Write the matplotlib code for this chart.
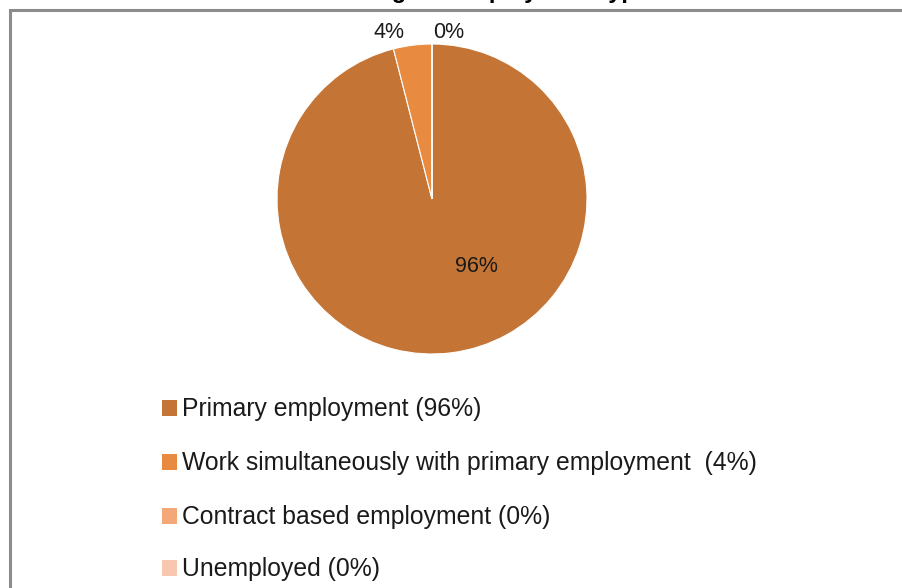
import matplotlib
matplotlib.use("Agg")
import matplotlib.pyplot as plt
from matplotlib.patches import Rectangle

categories = ["Primary employment (96%)",
              "Work simultaneously with primary employment  (4%)",
              "Contract based employment (0%)",
              "Unemployed (0%)"]
values = [96, 4, 0, 0]
pct_labels = ["96%", "4%", "0%", ""]
colors = ["#C47535", "#E88B40", "#F5A877", "#F8C8AE"]
title = "Percentage of employment type"

plt.rcParams['font.family'] = ['Liberation Sans', 'DejaVu Sans']

W, H = 902, 588
fig = plt.figure(figsize=(W/100, H/100), dpi=100)
fig.patch.set_facecolor("white")

# outer frame
fig.add_artist(Rectangle((9.5/W, -0.1), 2.0, (H-9.5)/H + 0.1, transform=fig.transFigure,
                         fill=False, edgecolor="#8c8c8c", linewidth=2.2))
# title (mostly clipped at top of the image, as in the reference)
fig.text(470/W, 1 + 2.0/H, title, ha="center", va="baseline", fontsize=17,
         fontweight="bold", color="black")

cx, cy, r = 432, 199, 155
ax = fig.add_axes([(cx - r)/W, 1 - (cy + r)/H, 2*r/W, 2*r/H])
wedges, _ = ax.pie(values, colors=colors, startangle=90, counterclock=False,
                   wedgeprops=dict(edgecolor="white", linewidth=0.8), radius=1.0)
ax.set_xlim(-1, 1)
ax.set_ylim(-1, 1)
ax.set_aspect("equal")
ax.axis("off")

# percentage labels
def px(x, y):
    return ((x - cx)/r, (cy - y)/r)
label_pos = [(476, 266), (389, 32), (449, 33)]
for lab, (x, y) in zip(pct_labels, label_pos):
    if lab:
        ax.text(*px(x, y), lab, ha="center", va="center", fontsize=15.5,
                color="#1a1a1a", clip_on=False)

# legend
leg_y = [409, 463, 517, 569]
for cat, col, y in zip(categories, colors, leg_y):
    fig.add_artist(Rectangle((162/W, 1 - (y + 7)/H), 15/W, 16/H,
                             transform=fig.transFigure, facecolor=col, edgecolor="none"))
    fig.text(182/W, 1 - y/H, cat, ha="left", va="center", fontsize=17.8,
             color="#1a1a1a")

fig.savefig("out.png", dpi=100)
